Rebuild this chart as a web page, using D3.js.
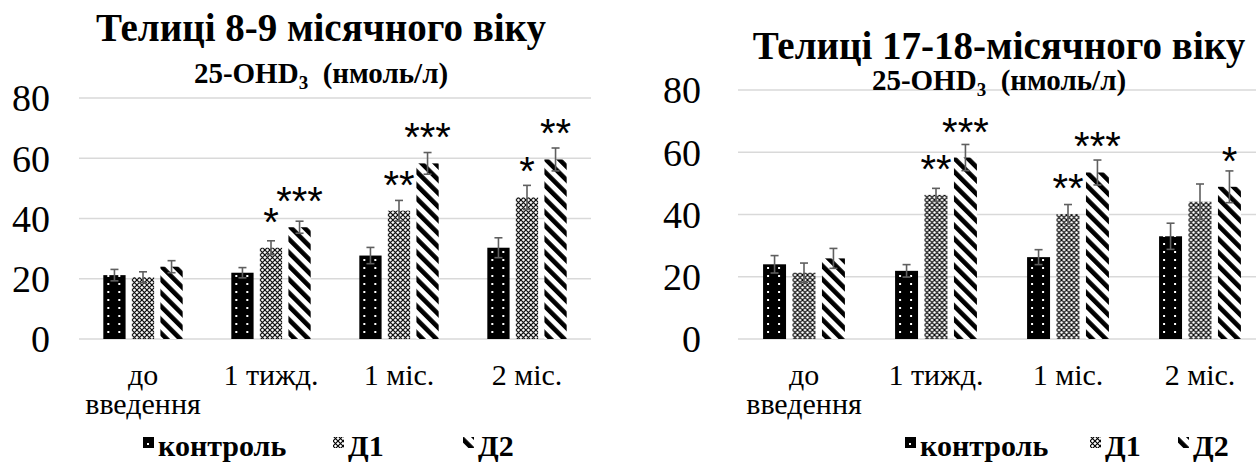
<!DOCTYPE html>
<html><head><meta charset="utf-8">
<script src="https://cdn.jsdelivr.net/npm/d3@7"></script>
<style>
html,body{margin:0;padding:0;background:#fff;}
svg{display:block;}
svg text{font-family:'Liberation Serif','Times New Roman',serif;fill:#000;}
svg text.sig{font-family:'Liberation Sans',Arial,sans-serif;}
</style></head><body>
<svg id="chart" width="1256" height="468"></svg>
<script>
// Categories and series
const categories = ["до введення", "1 тижд.", "1 міс.", "2 міс."];
const seriesNames = ["контроль", "Д1", "Д2"];
const yTicks = [0, 20, 40, 60, 80];

// Heifers aged 8-9 months: 25-OHD3, nmol/l (mean and error)
const youngControl = [21.2, 22.0, 27.7, 30.3];
const youngD1 = [20.5, 30.3, 42.6, 47.0];
const youngD2 = [24.0, 37.1, 58.3, 59.6];
const youngControlErr = [1.9, 1.7, 2.7, 3.3];
const youngD1Err = [1.8, 2.3, 3.4, 4.0];
const youngD2Err = [2.0, 2.0, 3.6, 3.8];
const youngControlSig = ["", "", "", ""];
const youngD1Sig = ["", "*", "**", "*"];
const youngD2Sig = ["", "***", "***", "**"];

// Heifers aged 17-18 months
const olderControl = [24.0, 21.9, 26.3, 33.0];
const olderD1 = [21.3, 46.3, 40.1, 44.1];
const olderD2 = [25.9, 58.3, 53.5, 48.9];
const olderControlErr = [2.8, 2.0, 2.4, 4.2];
const olderD1Err = [3.1, 2.1, 3.1, 5.7];
const olderD2Err = [3.2, 4.2, 4.0, 5.1];
const olderControlSig = ["", "", "", ""];
const olderD1Sig = ["", "**", "**", ""];
const olderD2Sig = ["", "***", "***", "*"];

const svg = d3.select("#chart");

// Fill patterns for the three series
const defs = svg.append("defs");
const pc = defs.append("pattern").attr("id", "pat0")
  .attr("patternUnits", "userSpaceOnUse").attr("width", 11).attr("height", 8);
pc.append("rect").attr("width", 11).attr("height", 8).attr("fill", "#000");
pc.append("rect").attr("x", 4).attr("y", 3).attr("width", 2).attr("height", 2).attr("fill", "#fff");

const p1 = defs.append("pattern").attr("id", "pat1")
  .attr("patternUnits", "userSpaceOnUse").attr("width", 5).attr("height", 5);
p1.append("rect").attr("width", 5).attr("height", 5).attr("fill", "#fff");
p1.append("path").attr("d", "M0,0L5,5M5,0L0,5")
  .attr("stroke", "#000").attr("stroke-width", 1.15);

const p2 = defs.append("pattern").attr("id", "pat2")
  .attr("patternUnits", "userSpaceOnUse").attr("width", 9.5).attr("height", 10)
  .attr("patternTransform", "rotate(-45)");
p2.append("rect").attr("width", 9.5).attr("height", 10).attr("fill", "#fff");
p2.append("rect").attr("width", 4.6).attr("height", 10).attr("fill", "#000");

const fills = ["url(#pat0)", "url(#pat1)", "url(#pat2)"];

function drawChart(cfg) {
  const g = svg.append("g");
  const x0 = d3.scaleBand().domain(categories).range(cfg.xRange)
    .paddingInner(0.38).paddingOuter(0.19);
  const x1 = d3.scaleBand().domain(seriesNames).range([0, x0.bandwidth()])
    .paddingInner(0.22);
  const y = d3.scaleLinear().domain([0, 80]).range(cfg.yRange);

  // gridlines
  g.append("g").selectAll("line").data(yTicks).join("line")
    .attr("x1", cfg.xRange[0]).attr("x2", cfg.xRange[1])
    .attr("y1", d => y(d)).attr("y2", d => y(d))
    .attr("stroke", "#d9d9d9").attr("stroke-width", 1.5);

  // y axis labels
  const yAxis = g.append("g")
    .attr("transform", `translate(${cfg.yLabelX},0)`)
    .call(d3.axisLeft(y).tickValues(yTicks).tickSize(0).tickPadding(0));
  yAxis.select(".domain").remove();
  yAxis.selectAll("text").attr("font-size", 38).attr("dy", "0.34em");

  // x axis labels, wrapped to the band width
  const xAxis = g.append("g")
    .attr("transform", `translate(0,${cfg.yRange[0]})`)
    .call(d3.axisBottom(x0).tickSize(0).tickPadding(0));
  xAxis.select(".domain").remove();
  xAxis.selectAll("text").each(function(d) {
    const t = d3.select(this);
    t.text(null).attr("font-size", 30).attr("y", 0).attr("dy", null);
    const words = d.split(" ");
    let lines = [], line = [];
    const probe = t.append("tspan");
    words.forEach(w => {
      const trial = line.concat([w]).join(" ");
      probe.text(trial);
      if (line.length && probe.node().getComputedTextLength() > x0.step() * 0.9) {
        lines.push(line.join(" "));
        line = [w];
      } else line.push(w);
    });
    lines.push(line.join(" "));
    probe.remove();
    lines.forEach((l, i) => {
      t.append("tspan").attr("x", 0).attr("y", 46 + i * 29).text(l);
    });
  });

  // bars
  const series = seriesNames.map((name, si) => ({
    name, si, values: cfg.values[si], errs: cfg.errs[si], sig: cfg.sig[si]
  }));
  const groups = g.append("g").selectAll("g").data(series).join("g");
  const pts = groups.selectAll("g").data(s => categories.map((c, i) => ({
    c, v: s.values[i], e: s.errs[i], sig: s.sig[i], name: s.name, si: s.si
  }))).join("g")
    .attr("transform", d => `translate(${x0(d.c) + x1(d.name)},0)`);

  pts.append("rect")
    .attr("x", 0).attr("width", x1.bandwidth())
    .attr("y", d => y(d.v)).attr("height", d => y(0) - y(d.v))
    .attr("fill", d => fills[d.si]);

  // error bars
  const bw = x1.bandwidth();
  const eb = pts.append("g").attr("stroke", "#5f5f5f").attr("stroke-width", 1.6);
  eb.append("line").attr("x1", bw / 2).attr("x2", bw / 2)
    .attr("y1", d => y(d.v + d.e)).attr("y2", d => y(d.v - d.e));
  eb.append("line").attr("x1", bw / 2 - 4).attr("x2", bw / 2 + 4)
    .attr("y1", d => y(d.v + d.e)).attr("y2", d => y(d.v + d.e));
  eb.append("line").attr("x1", bw / 2 - 4).attr("x2", bw / 2 + 4)
    .attr("y1", d => y(d.v - d.e)).attr("y2", d => y(d.v - d.e));

  // significance marks
  pts.filter(d => d.sig).append("text").attr("class", "sig")
    .attr("x", bw / 2).attr("y", d => y(d.v) - 12)
    .attr("text-anchor", "middle").attr("font-size", 40)
    .text(d => d.sig);

  // titles
  g.append("text").attr("x", cfg.titleX).attr("y", cfg.titleY)
    .attr("text-anchor", "middle")
    .attr("font-weight", "bold").attr("font-size", 39)
    .text(cfg.title);
  const st = g.append("text").attr("x", cfg.titleX).attr("y", cfg.subY)
    .attr("text-anchor", "middle")
    .attr("font-weight", "bold").attr("font-size", 29);
  st.append("tspan").text("25-OHD");
  st.append("tspan").attr("font-size", 19).attr("dy", 6).text("3");
  st.append("tspan").attr("dy", -6).text("\u00a0 (нмоль/л)");

  // legend
  const lg = g.append("g").attr("transform", `translate(0,${cfg.legendY})`);
  const items = lg.selectAll("g").data(seriesNames).join("g")
    .attr("transform", (d, i) => `translate(${cfg.legendX[i]},0)`);
  items.append("rect").attr("x", 0).attr("y", -19).attr("width", 11).attr("height", 11)
    .attr("fill", (d, i) => fills[i]);
  items.append("text").attr("x", 15).attr("y", 0)
    .attr("font-weight", "bold").attr("font-size", 30)
    .text(d => d);
}

drawChart({
  xRange: [79, 591], yRange: [339, 98], yLabelX: 50,
  values: [youngControl, youngD1, youngD2],
  errs: [youngControlErr, youngD1Err, youngD2Err],
  sig: [youngControlSig, youngD1Sig, youngD2Sig],
  title: "Телиці 8-9 місячного віку", titleX: 321, titleY: 41, subY: 83,
  legendY: 456, legendX: [143, 333, 463]
});

drawChart({
  xRange: [738, 1266], yRange: [339, 90], yLabelX: 701,
  values: [olderControl, olderD1, olderD2],
  errs: [olderControlErr, olderD1Err, olderD2Err],
  sig: [olderControlSig, olderD1Sig, olderD2Sig],
  title: "Телиці 17-18-місячного віку", titleX: 999, titleY: 59, subY: 90,
  legendY: 456, legendX: [905, 1090, 1178]
});
</script>
</body></html>
